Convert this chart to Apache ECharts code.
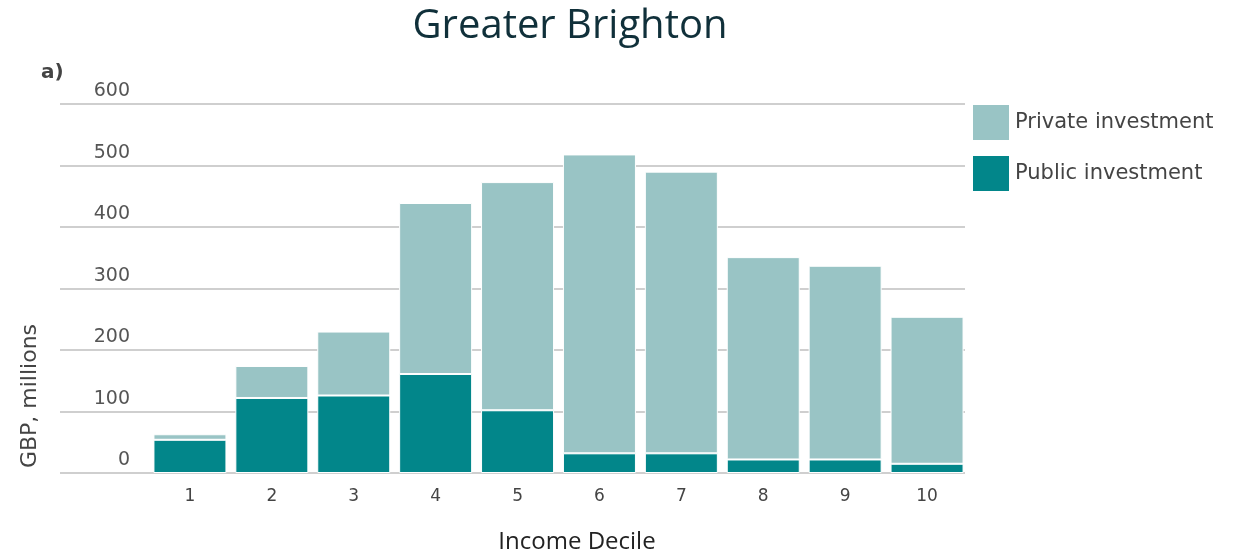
<!DOCTYPE html>
<html>
<head>
<meta charset="utf-8">
<title>Greater Brighton</title>
<script src="https://cdn.jsdelivr.net/npm/echarts@6/dist/echarts.min.js"></script>
<style>
  html, body { margin: 0; padding: 0; background: #fff; }
  #chart { width: 1253px; height: 553px; }
</style>
</head>
<body>
<div id="chart"></div>
<script>
  // income deciles
  var deciles = ['1', '2', '3', '4', '5', '6', '7', '8', '9', '10'];
  // GBP millions
  var publicInvestment = [54, 122, 126, 161, 102, 32, 32, 22, 22, 15];
  var privateInvestment = [9, 52, 104, 278, 371, 486, 458, 329, 315, 239];
  var yTicks = [0, 100, 200, 300, 400, 500, 600];

  var labelFont = '"DejaVu Sans", "Noto Sans", sans-serif';
  var captionFont = '"Open Sans", "Noto Sans", sans-serif';
  var chart = echarts.init(document.getElementById('chart'));

  chart.setOption({
    animation: false,
    title: {
      text: 'Greater Brighton',
      left: 565,
      top: 2,
      textAlign: 'center',
      textStyle: { fontFamily: captionFont, fontSize: 40, fontWeight: 'normal', color: '#10303a' }
    },
    legend: {
      orient: 'vertical',
      left: 966,
      top: 98,
      itemWidth: 38,
      itemHeight: 37,
      itemGap: 12,
      icon: 'rect',
      data: ['Private investment', 'Public investment'],
      textStyle: { fontFamily: labelFont, fontSize: 21, color: '#444' }
    },
    graphic: [
      { type: 'text', left: 41, top: 63, style: { text: 'a)', fontFamily: labelFont, fontSize: 20, fontWeight: 'bold', fill: '#444' } },
      { type: 'text', x: 30, y: 396, rotation: Math.PI / 2,
        style: { text: 'GBP, millions', fontFamily: labelFont, fontSize: 22, fill: '#444', align: 'center', verticalAlign: 'middle' } },
      { type: 'text', x: 577, y: 542,
        style: { text: 'Income Decile', fontFamily: captionFont, fontSize: 24, fill: '#222', align: 'center', verticalAlign: 'middle' } }
    ],
    grid: [
      // background grid for the long gridlines
      { left: 60, right: 288, top: 104, bottom: 80 },
      // bars
      { left: 149, right: 285, top: 104, bottom: 80 }
    ],
    xAxis: [
      { gridIndex: 0, type: 'category', data: deciles, show: false },
      {
        gridIndex: 1, type: 'category', data: deciles,
        axisLine: { show: false }, axisTick: { show: false },
        axisLabel: { margin: 15, fontFamily: labelFont, fontSize: 17, color: '#444' }
      }
    ],
    yAxis: [
      {
        gridIndex: 0, type: 'value', min: 0, max: 600, interval: 100,
        axisLine: { show: false }, axisTick: { show: false },
        splitLine: { lineStyle: { color: '#cfcfcf', width: 2 } },
        axisLabel: {
          inside: true, margin: 70, align: 'right', verticalAlign: 'bottom',
          padding: [0, 0, 3, 0],
          fontFamily: labelFont, fontSize: 19, color: '#555',
          formatter: function (v) { return yTicks.indexOf(v) >= 0 ? String(v) : ''; }
        }
      },
      { gridIndex: 1, type: 'value', min: 0, max: 600, interval: 100, show: false, splitLine: { show: false } }
    ],
    series: [
      {
        name: 'Public investment', type: 'bar', stack: 'total',
        xAxisIndex: 1, yAxisIndex: 1, barWidth: 73,
        itemStyle: { color: '#02868a', borderColor: '#ffffff', borderWidth: 1 },
        data: publicInvestment
      },
      {
        name: 'Private investment', type: 'bar', stack: 'total',
        xAxisIndex: 1, yAxisIndex: 1, barWidth: 73,
        itemStyle: { color: '#99c4c5', borderColor: '#ffffff', borderWidth: 1 },
        data: privateInvestment
      }
    ]
  });
</script>
</body>
</html>
